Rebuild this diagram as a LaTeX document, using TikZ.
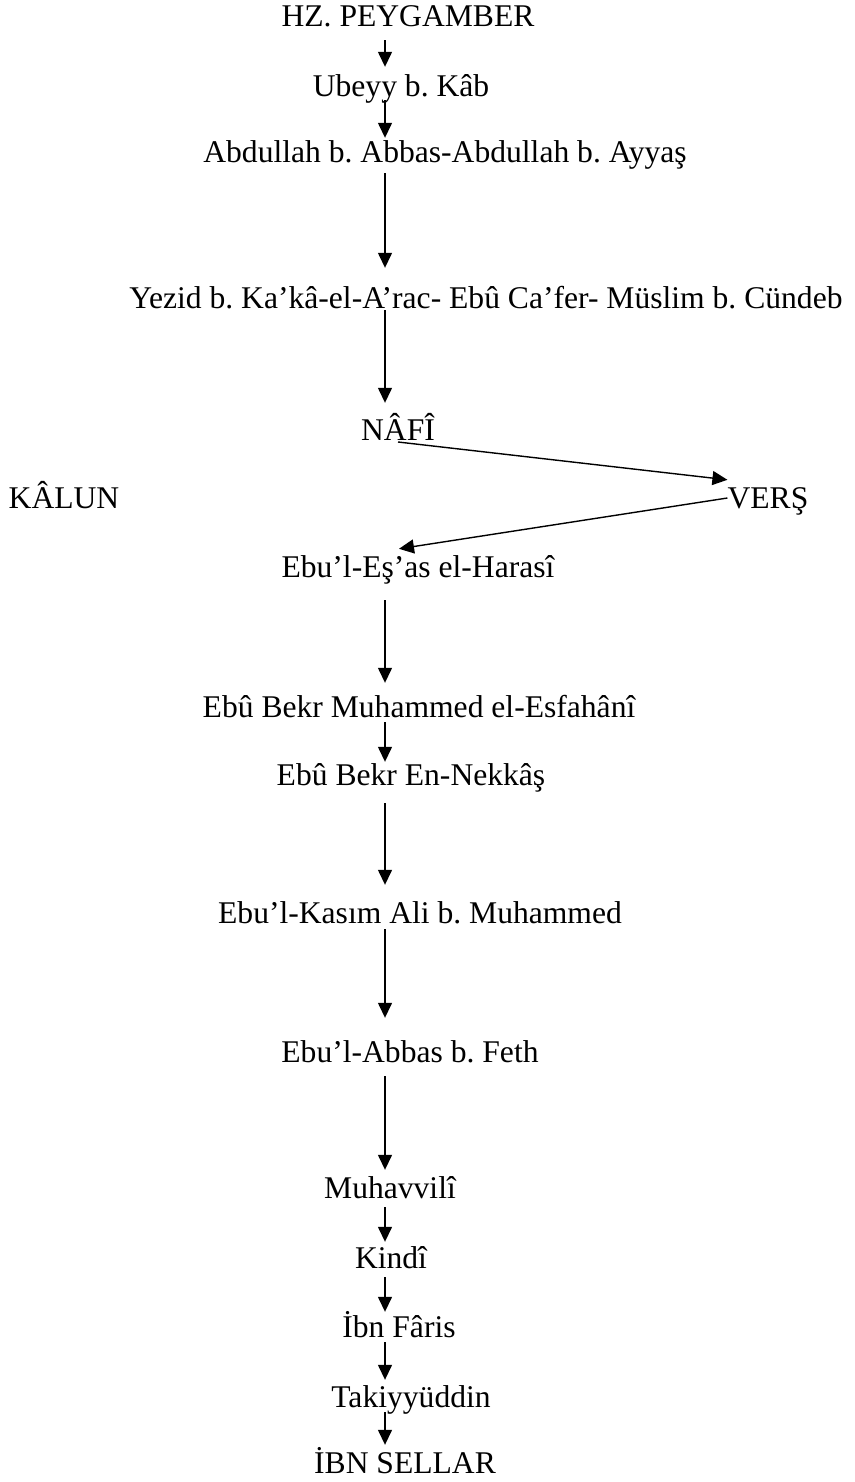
\documentclass[tikz,border=0pt]{standalone}
\usepackage{fontspec}
\setmainfont{Liberation Serif}
\usetikzlibrary{arrows.meta}
\frenchspacing

\begin{document}
\begin{tikzpicture}[x=1pt, y=-1pt,
  narrator/.style={font=\fontsize{31.6}{36}\selectfont, inner sep=0pt, anchor=base, text height=28pt, text depth=8pt},
  lineage/.style={-{Triangle[length=15pt,width=14pt]}, line width=1.4pt}]
  \useasboundingbox (0,0) rectangle (854,1482);
  \coordinate (axis) at (385,0);
  % narrators
  \node[narrator] (hz) at (408,27) {HZ. PEYGAMBER};
  \node[narrator] (ubeyy) at (401,97) {Ubeyy b. Kâb};
  \node[narrator] (abdullah) at (445,163) {Abdullah b. Abbas-Abdullah b. Ayyaş};
  \node[narrator] (yezid) at (486,308) {Yezid b. Ka’kâ-el-A’rac- Ebû Ca’fer- Müslim b. Cündeb};
  \node[narrator] (nafi) at (398,440) {NÂFÎ};
  \node[narrator] (kalun) at (64,508) {KÂLUN};
  \node[narrator] (vers) at (768,508) {VERŞ};
  \node[narrator] (harasi) at (418,577) {Ebu’l-Eş’as el-Harasî};
  \node[narrator] (esfahani) at (419,717) {Ebû Bekr Muhammed el-Esfahânî};
  \node[narrator] (nekkas) at (411,785) {Ebû Bekr En-Nekkâş};
  \node[narrator] (kasim) at (420,923) {Ebu’l-Kasım Ali b. Muhammed};
  \node[narrator] (abbas) at (410,1062) {Ebu’l-Abbas b. Feth};
  \node[narrator] (muhavvili) at (390,1198) {Muhavvilî};
  \node[narrator] (kindi) at (391,1268) {Kindî};
  \node[narrator] (faris) at (399,1337) {İbn Fâris};
  \node[narrator] (takiyyuddin) at (411,1407) {Takiyyüddin};
  \node[narrator] (sellar) at (405,1473) {İBN SELLAR};
  % transmission
  \draw[lineage, shorten <=5pt, shorten >=2pt] (hz.south -| axis) -- (ubeyy.north -| axis);
  \draw[lineage, shorten <=-5pt, shorten >=-3pt] (ubeyy.south -| axis) -- (abdullah.north -| axis);
  \draw[lineage, shorten <=2pt, shorten >=12pt] (abdullah.south -| axis) -- (yezid.north -| axis);
  \draw[lineage, shorten <=-6pt, shorten >=9pt] (yezid.south -| axis) -- (nafi.north -| axis);
  \draw[lineage] ([yshift=-2pt]nafi.base) -- (vers.north west);
  \draw[lineage] (vers.west) -- ([xshift=-19pt]harasi.north);
  \draw[lineage, shorten <=15pt, shorten >=6pt] (harasi.south -| axis) -- (esfahani.north -| axis);
  \draw[lineage, shorten <=-3pt, shorten >=-5pt] (esfahani.south -| axis) -- (nekkas.north -| axis);
  \draw[lineage, shorten <=10pt, shorten >=10pt] (nekkas.south -| axis) -- (kasim.north -| axis);
  \draw[lineage, shorten <=-2pt, shorten >=16pt] (kasim.south -| axis) -- (abbas.north -| axis);
  \draw[lineage, shorten <=6pt] (abbas.south -| axis) -- (muhavvili.north -| axis);
  \draw[lineage, shorten <=1pt, shorten >=-2pt] (muhavvili.south -| axis) -- (kindi.north -| axis);
  \draw[lineage, shorten <=1pt, shorten >=-3pt] (kindi.south -| axis) -- (faris.north -| axis);
  \draw[lineage, shorten <=-3pt, shorten >=-1pt] (faris.south -| axis) -- (takiyyuddin.north -| axis);
  \draw[lineage, shorten <=-3pt] (takiyyuddin.south -| axis) -- (sellar.north -| axis);
\end{tikzpicture}
\end{document}
